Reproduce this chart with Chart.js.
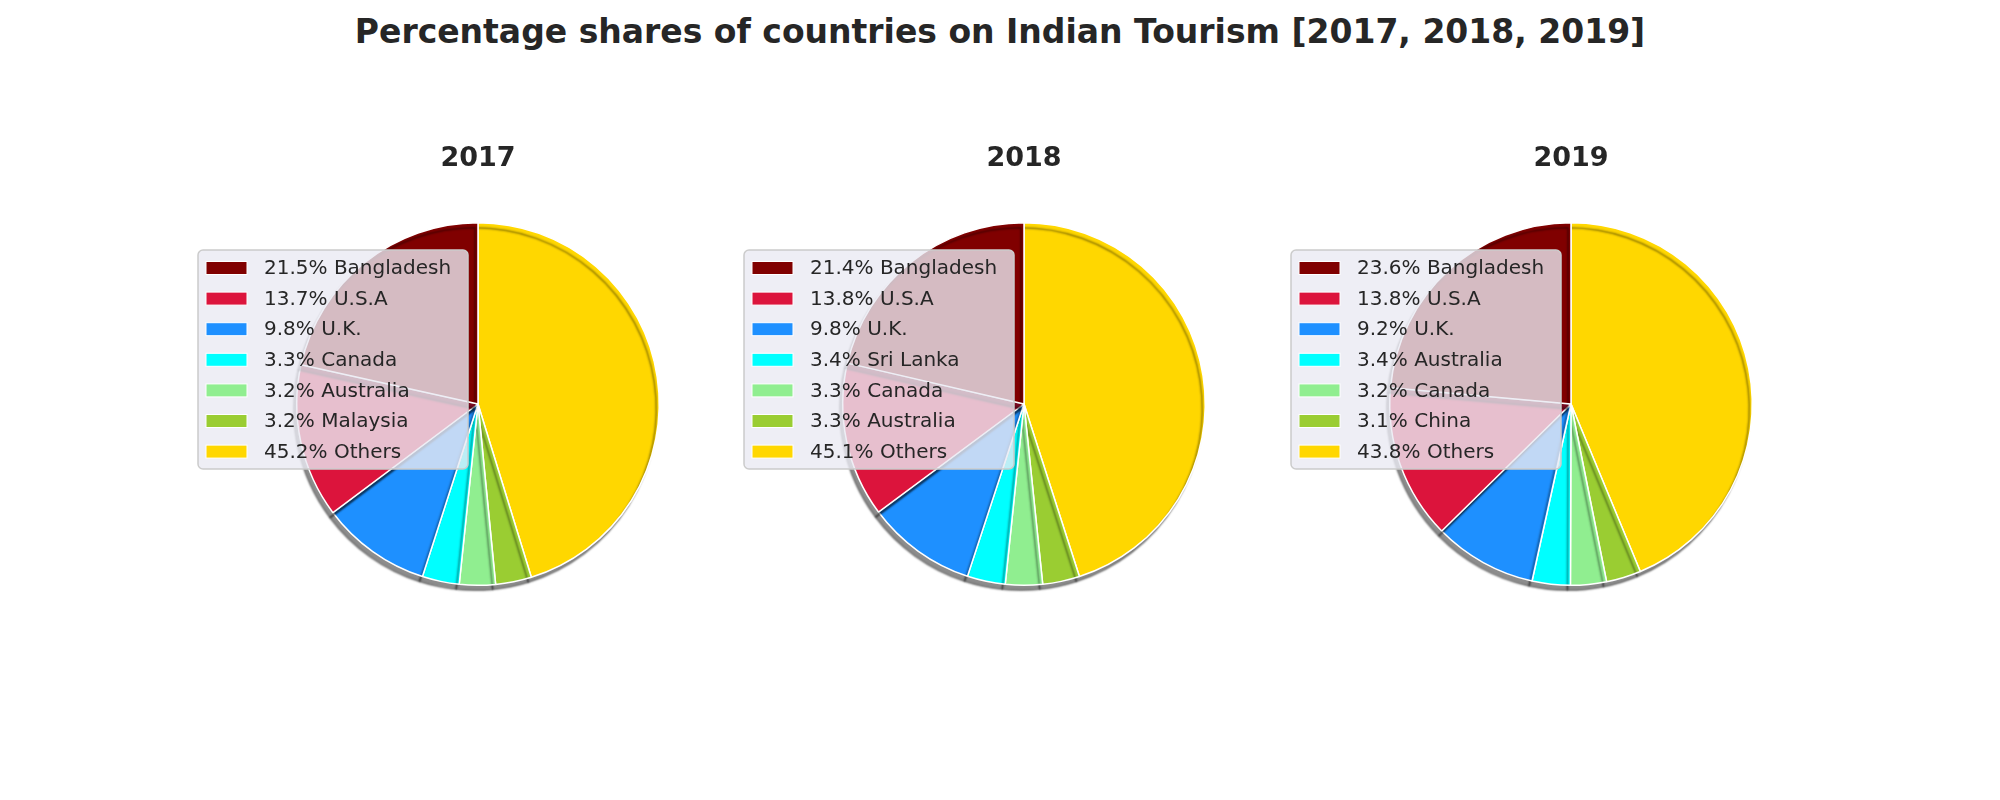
<!DOCTYPE html>
<html>
<head>
<meta charset="utf-8">
<script src="https://cdn.jsdelivr.net/npm/chart.js@4"></script>
<style>
body{margin:0;width:2000px;height:800px;background:#fff;position:relative;overflow:hidden;font-family:"DejaVu Sans",sans-serif;}
#title{position:absolute;top:12px;left:0;width:2000px;text-align:center;font-weight:bold;font-size:33px;color:#262626;}
canvas{position:absolute;top:0;}
</style>
</head>
<body>
<div id="title">Percentage shares of countries on Indian Tourism [2017, 2018, 2019]</div>
<canvas id="c2017"></canvas>
<canvas id="c2018"></canvas>
<canvas id="c2019"></canvas>
<script>
var years = ["2017", "2018", "2019"];
var labels2017 = ["Bangladesh", "U.S.A", "U.K.", "Canada", "Australia", "Malaysia", "Others"];
var values2017 = [21.5, 13.7, 9.8, 3.3, 3.2, 3.2, 45.2];
var labels2018 = ["Bangladesh", "U.S.A", "U.K.", "Sri Lanka", "Canada", "Australia", "Others"];
var values2018 = [21.4, 13.8, 9.8, 3.4, 3.3, 3.3, 45.1];
var labels2019 = ["Bangladesh", "U.S.A", "U.K.", "Australia", "Canada", "China", "Others"];
var values2019 = [23.6, 13.8, 9.2, 3.4, 3.2, 3.1, 43.8];
var colours = ["#800000", "#DC143C", "#1E90FF", "#00FFFF", "#90EE90", "#9ACD32", "#FFD700"];
var centers = [478, 1024, 1571];

var allLabels = {"2017": labels2017, "2018": labels2018, "2019": labels2019};
var allValues = {"2017": values2017, "2018": values2018, "2019": values2019};

// matplotlib went counter-clockwise from the top, chart.js goes clockwise, so reverse
function rev(a){ return a.slice().reverse(); }

var shadowPlugin = {
    id: "shadow",
    beforeDatasetsDraw: function(chart){
        let ctx = chart.ctx;
        ctx.save();
        ctx.shadowColor = "rgba(0,0,0,0.45)";
        ctx.shadowOffsetX = -3;
        ctx.shadowOffsetY = 5;
        ctx.shadowBlur = 2;
    },
    afterDatasetsDraw: function(chart){
        chart.ctx.restore();
    }
};

var overlayPlugin = {
    id: "overlay",
    afterDraw: function(chart, args, opts){
        let ctx = chart.ctx;
        let year = opts.year;
        ctx.save();
        ctx.fillStyle = "#262626";
        ctx.font = "bold 27px 'DejaVu Sans'";
        ctx.textAlign = "center";
        ctx.textBaseline = "middle";
        ctx.fillText(year, 400, 159);

        // legend box
        let bx = 120, by = 250, bw = 270, bh = 219;
        ctx.beginPath();
        ctx.roundRect(bx, by, bw, bh, 5);
        ctx.fillStyle = "rgba(234,234,242,0.8)";
        ctx.fill();
        ctx.strokeStyle = "#cccccc";
        ctx.lineWidth = 1.5;
        ctx.stroke();

        ctx.font = "20px 'DejaVu Sans'";
        ctx.textAlign = "left";
        let labs = allLabels[year], vals = allValues[year];
        for (let i = 0; i < labs.length; i++) {
            let y = 268 + i * 30.6;
            ctx.fillStyle = colours[i];
            ctx.fillRect(128, y - 6.5, 41, 13);
            ctx.strokeStyle = "#ffffff";
            ctx.lineWidth = 1;
            ctx.strokeRect(128, y - 6.5, 41, 13);
            ctx.fillStyle = "#262626";
            ctx.fillText(vals[i].toFixed(1) + "% " + labs[i], 186, y + 1);
        }
        ctx.restore();
    }
};

years.forEach(function(year, k){
    let canvas = document.getElementById("c" + year);
    canvas.style.left = (centers[k] - 400) + "px";
    canvas.width = 800;
    canvas.height = 800;
    new Chart(canvas, {
        type: "pie",
        data: {
            labels: rev(allLabels[year]),
            datasets: [{
                data: rev(allValues[year]),
                backgroundColor: rev(colours),
                borderColor: "#ffffff",
                borderWidth: 1.5
            }]
        },
        options: {
            responsive: false,
            animation: false,
            layout: {padding: {left: 218, right: 218, top: 222, bottom: 214}},
            plugins: {
                legend: {display: false},
                tooltip: {enabled: false},
                overlay: {year: year}
            }
        },
        plugins: [shadowPlugin, overlayPlugin]
    });
});
</script>
</body>
</html>
